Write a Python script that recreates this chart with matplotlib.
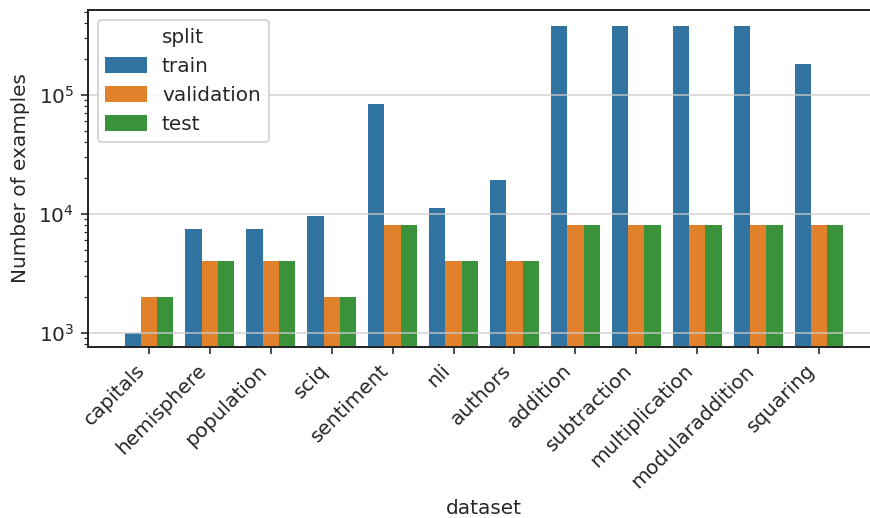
import numpy as np
import matplotlib
matplotlib.use("Agg")
import matplotlib.pyplot as plt
from matplotlib.patches import Patch

# Data
datasets = ["capitals", "hemisphere", "population", "sciq", "sentiment", "nli",
            "authors", "addition", "subtraction", "multiplication",
            "modularaddition", "squaring"]
splits = ["train", "validation", "test"]
train = [1000, 7400, 7400, 9500, 83700, 11100, 19200,
         380000, 380000, 380000, 380000, 182000]
validation = [2000, 4000, 4000, 2000, 8000, 4000, 4000,
              8000, 8000, 8000, 8000, 8000]
test = [2000, 4000, 4000, 2000, 8000, 4000, 4000,
        8000, 8000, 8000, 8000, 8000]

colors = ["#3274a1", "#e1812c", "#3a923a"]

plt.rcParams["font.family"] = "DejaVu Sans"
plt.rcParams["font.size"] = 10
plt.rcParams["text.color"] = "#262626"
plt.rcParams["axes.labelcolor"] = "#262626"
plt.rcParams["xtick.color"] = "#262626"
plt.rcParams["ytick.color"] = "#262626"

fig = plt.figure(figsize=(870 / 144, 518 / 144), dpi=144)
ax = fig.add_axes([88 / 870, 1 - 347 / 518, 792 / 870, 337 / 518])

x = np.arange(len(datasets))
width = 0.8 / 3
for i, (name, vals) in enumerate(zip(splits, [train, validation, test])):
    ax.bar(x + (i - 1) * width, vals, width=width, color=colors[i],
           label=name, bottom=1, zorder=1)

ax.set_yscale("log")
ax.set_ylim(757, 517000)
ax.set_xlim(-1, 12)
ax.grid(axis="y", which="major", color="#cccccc", alpha=0.75, linewidth=0.9, zorder=1.5)

ax.set_xticks(x)
ax.set_xticklabels(datasets, rotation=45, ha="right")
ax.set_xlabel("dataset")
ax.set_ylabel("Number of examples")

for side in ["left", "bottom", "top"]:
    ax.spines[side].set_color("#262626")
    ax.spines[side].set_linewidth(1.0)
ax.spines["right"].set_visible(False)

handles = [Patch(color=c) for c in colors]
ax.legend(handles, splits, title="split", loc="upper left")

fig.savefig("out.png", dpi=144)
